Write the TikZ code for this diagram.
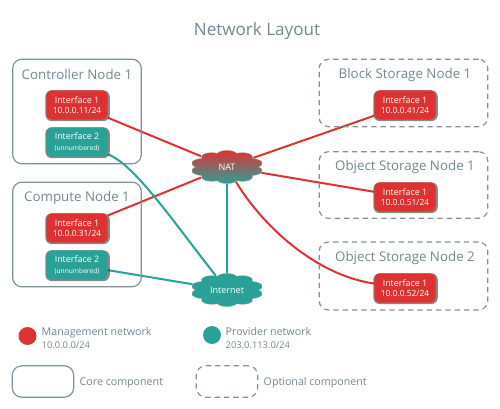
\documentclass[tikz,border=0pt]{standalone}
\usepackage{fontspec}
\setmainfont{Open Sans}
\usetikzlibrary{shapes.symbols, shadows, backgrounds}
\definecolor{net-red}{HTML}{DE3232}
\definecolor{net-teal}{HTML}{2AA197}
\definecolor{slate}{HTML}{72878F}
\definecolor{box-line}{HTML}{7C939E}

\tikzset{
  corebox/.style={draw=box-line, line width=0.9pt, rounded corners=7pt},
  optbox/.style={draw=box-line, line width=0.9pt, dashed, dash pattern=on 4pt off 3pt, rounded corners=7pt},
  iface/.style={rounded corners=4.5pt, minimum width=46pt, minimum height=22pt, inner sep=0pt,
    align=center, text=white, font=\fontsize{6.7}{7.8}\selectfont,
    drop shadow={shadow xshift=0.4pt, shadow yshift=-0.5pt, shadow scale=1.05, opacity=0.55, fill=black!85}},
  cloudnet/.style={cloud, cloud puffs=10, cloud puff arc=135, aspect=1, xscale=2.2, transform shape,
    minimum size=25pt, inner sep=0pt, draw=gray!70, line width=0.2pt},
  cloudlabel/.style={text=white, font=\fontsize{6.8}{8}\selectfont},
  nodetitle/.style={text=slate, font=\fontsize{10}{12}\selectfont},
  legendtext/.style={text=slate, anchor=west, align=left, font=\fontsize{8}{10}\selectfont},
  redline/.style={draw=net-red, line width=1.5pt},
  tealline/.style={draw=net-teal, line width=1.5pt}
}

\begin{document}
\begin{tikzpicture}[x=0.75pt, y=-0.75pt]
    \useasboundingbox (0,0) rectangle (500,409);
    \node[text=slate, font=\fontsize{12.8}{15}\selectfont] (title) at (257,31) {Network Layout};

    \node[corebox, minimum width=96.5pt, minimum height=78.5pt] (ctrlbox) at (77,111.5) {};
    \node[nodetitle] (ctrltitle) at (77,75) {Controller Node 1};
    \node[iface, fill=net-red] (ctrlif1) at (77,105) {Interface 1\\{\fontsize{6.3}{7.6}\selectfont 10.0.0.11/24}};
    \node[iface, fill=net-teal] (ctrlif2) at (77,142) {Interface 2\\{\fontsize{5}{7}\selectfont (unnumbered)}};

    \node[corebox, minimum width=96.5pt, minimum height=78.5pt] (compbox) at (77,234.5) {};
    \node[nodetitle] (comptitle) at (77,198) {Compute Node 1};
    \node[iface, fill=net-red] (compif1) at (77,228) {Interface 1\\{\fontsize{6.3}{7.6}\selectfont 10.0.0.31/24}};
    \node[iface, fill=net-teal] (compif2) at (77,265) {Interface 2\\{\fontsize{5}{7}\selectfont (unnumbered)}};

    \node[optbox, minimum width=126.5pt, minimum height=50.5pt] (blockbox) at (403.5,93) {};
    \node[nodetitle] (blocktitle) at (405,75) {Block Storage Node 1};
    \node[iface, fill=net-red] (blockif1) at (405,105) {Interface 1\\{\fontsize{6.3}{7.6}\selectfont 10.0.0.41/24}};

    \node[optbox, minimum width=126.5pt, minimum height=50pt] (obj1box) at (403.5,185) {};
    \node[nodetitle] (obj1title) at (405,167) {Object Storage Node 1};
    \node[iface, fill=net-red] (obj1if1) at (405,197) {Interface 1\\{\fontsize{6.3}{7.6}\selectfont 10.0.0.51/24}};

    \node[optbox, minimum width=126.5pt, minimum height=51pt] (obj2box) at (403.5,276) {};
    \node[nodetitle] (obj2title) at (405,258) {Object Storage Node 2};
    \node[iface, fill=net-red] (obj2if1) at (405,288) {Interface 1\\{\fontsize{6.3}{7.6}\selectfont 10.0.0.52/24}};

    \node[cloudnet, top color=net-red, bottom color=net-teal] (nat) at (227,167) {};
    \node[cloudlabel] (natlabel) at (227,167) {NAT};
    \node[cloudnet, fill=net-teal] (internet) at (227,290) {};
    \node[cloudlabel] (internetlabel) at (227,290) {Internet};

    \begin{pgfonlayer}{background}
      \draw[redline] (ctrlif1) -- (nat);
      \draw[redline] (compif1) -- (nat);
      \draw[redline] (blockif1) -- (nat);
      \draw[redline] (obj1if1) -- (nat);
      \draw[redline] (nat) .. controls (262,225) and (315,275) .. (obj2if1);
      \draw[tealline] (nat) -- (internet);
      \draw[tealline] (compif2) -- (internet);
      \draw[tealline] (ctrlif2) .. controls (135,165) and (172,220) .. (internet);
    \end{pgfonlayer}

    \node[circle, fill=net-red, minimum size=13.5pt, inner sep=0pt] (mgmtdot) at (27.5,336) {};
    \node[legendtext] (mgmttext) at (37,338)
      {Management network\\{\fontsize{7}{8}\selectfont 10.0.0.0/24}};
    \node[circle, fill=net-teal, minimum size=13.5pt, inner sep=0pt] (provdot) at (212,335) {};
    \node[legendtext] (provtext) at (221,338)
      {Provider network\\{\fontsize{7}{8}\selectfont 203.0.113.0/24}};

    \node[corebox, minimum width=46pt, minimum height=23.5pt] (corekey) at (43,381.5) {};
    \node[legendtext] (coretext) at (75,383) {Core component};
    \node[optbox, minimum width=46pt, minimum height=23.5pt] (optkey) at (227,381.5) {};
    \node[legendtext] (opttext) at (259,383) {Optional component};
\end{tikzpicture}
\end{document}
